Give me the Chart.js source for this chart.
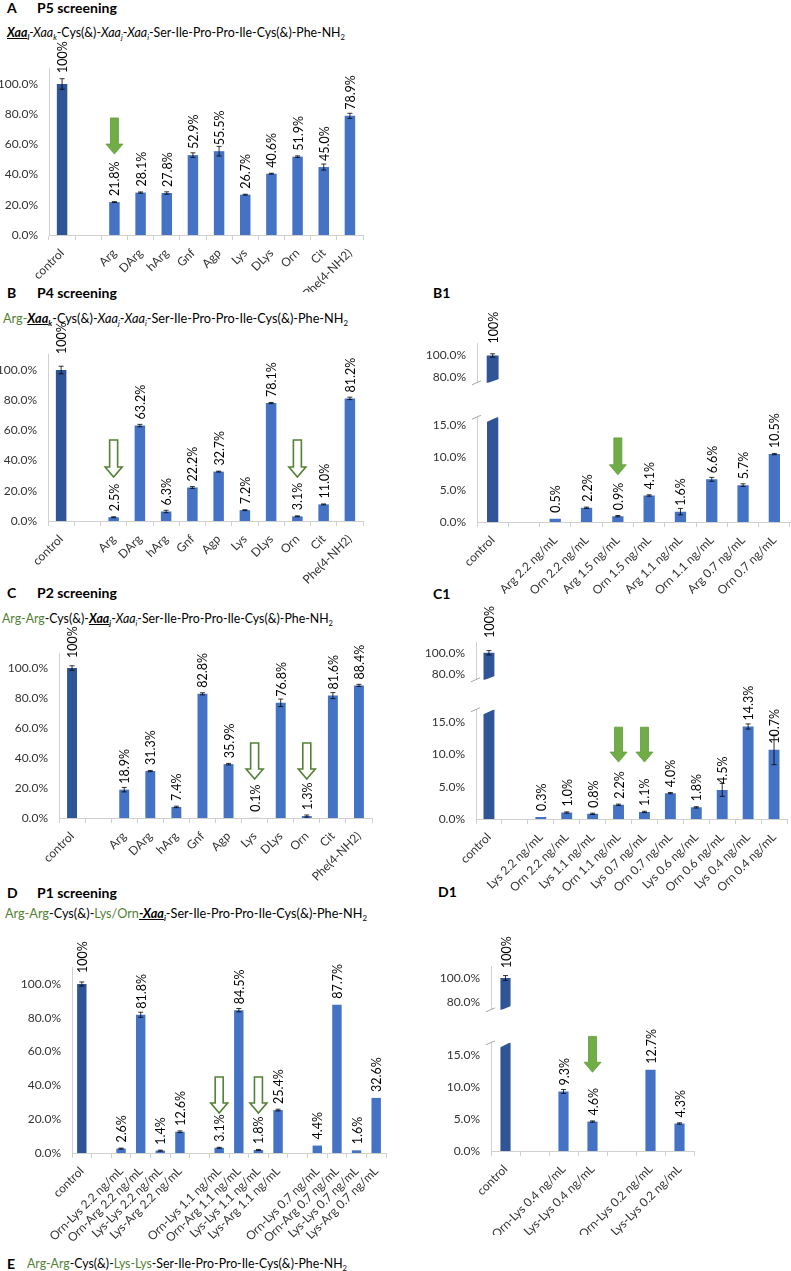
<!DOCTYPE html>
<html><head><meta charset="utf-8">
<script src="https://cdn.jsdelivr.net/npm/chart.js@4.4.1/dist/chart.umd.min.js"></script>
<style>
body{margin:0;background:#fff;}
#wrap{position:relative;width:791px;height:1271px;overflow:hidden;font-family:Lato,sans-serif;color:#000;background:#fff;}
.t{position:absolute;white-space:nowrap;line-height:1;}
.h{font-weight:bold;font-size:14px;}
.seq{font-size:13.5px;transform-origin:0 50%;}
.g{color:#538135;}
.k{font-weight:bold;font-style:italic;text-decoration:underline;}
.i{font-style:italic;}
sub{font-size:62%;vertical-align:-0.3em;line-height:0;}
canvas{position:absolute;}
</style></head>
<body><div id="wrap">
<div class="t h" style="left:7px;top:1px">A</div>
<div class="t h" style="left:37px;top:1px">P5 screening</div>
<div class="t seq" data-w="338" style="left:7px;top:26px"><span class="k">Xaa<sub>l</sub></span><span class="i">-Xaa<sub>k</sub></span>-Cys(&amp;)-<span class="i">Xaa<sub>j</sub></span>-<span class="i">Xaa<sub>i</sub></span>-Ser-Ile-Pro-Pro-Ile-Cys(&amp;)-Phe-NH<sub>2</sub></div>

<div class="t h" style="left:7px;top:286px">B</div>
<div class="t h" style="left:37px;top:286px">P4 screening</div>
<div class="t h" style="left:433px;top:286px">B1</div>
<div class="t seq" data-w="345" style="left:3px;top:312px"><span class="g">Arg-</span><span class="k">Xaa<sub>k</sub></span>-Cys(&amp;)-<span class="i">Xaa<sub>j</sub></span>-<span class="i">Xaa<sub>i</sub></span>-Ser-Ile-Pro-Pro-Ile-Cys(&amp;)-Phe-NH<sub>2</sub></div>

<div class="t h" style="left:7px;top:586px">C</div>
<div class="t h" style="left:37px;top:586px">P2 screening</div>
<div class="t h" style="left:433px;top:587px">C1</div>
<div class="t seq" data-w="331" style="left:2px;top:612px"><span class="g">Arg-Arg</span>-Cys(&amp;)-<span class="k">Xaa<sub>j</sub></span>-<span class="i">Xaa<sub>i</sub></span>-Ser-Ile-Pro-Pro-Ile-Cys(&amp;)-Phe-NH<sub>2</sub></div>

<div class="t h" style="left:7px;top:886px">D</div>
<div class="t h" style="left:37px;top:886px">P1 screening</div>
<div class="t h" style="left:438px;top:885px">D1</div>
<div class="t seq" data-w="362" style="left:5px;top:907px"><span class="g">Arg-Arg</span>-Cys(&amp;)-<span class="g">Lys/Orn</span><span class="k">-Xaa<sub>i</sub></span>-Ser-Ile-Pro-Pro-Ile-Cys(&amp;)-Phe-NH<sub>2</sub></div>

<div class="t h" style="left:7px;top:1257px">E</div>
<div class="t seq" data-w="320" style="left:27px;top:1257px"><span class="g">Arg-Arg</span>-Cys(&amp;)-<span class="g">Lys-Lys</span>-Ser-Ile-Pro-Pro-Ile-Cys(&amp;)-Phe-NH<sub>2</sub></div>
</div>
<script>
// ---------- data ----------
const mainCats = ['control','','Arg','DArg','hArg','Gnf','Agp','Lys','DLys','Orn','Cit','Phe(4-NH2)'];
const aValues = [100,null,21.8,28.1,27.8,52.9,55.5,26.7,40.6,51.9,45.0,78.9];
const aErrors = [3.5,null,0.3,0.4,0.8,1.5,3.2,0.3,0.3,0.5,2.0,1.7];
const bValues = [100,null,2.5,63.2,6.3,22.2,32.7,7.2,78.1,3.1,11.0,81.2];
const bErrors = [2.5,null,0.3,0.8,0.8,0.6,0.3,0.3,0.4,0.3,0.3,0.8];
const cValues = [100,null,18.9,31.3,7.4,82.8,35.9,0.1,76.8,1.3,81.6,88.4];
const cErrors = [1.5,null,1.5,0.4,0.5,0.7,0.5,0,2.5,0.7,2.0,0.7];

const b1Cats = ['control','','Arg 2.2 ng/mL','Orn 2.2 ng/mL','Arg 1.5 ng/mL','Orn 1.5 ng/mL','Arg 1.1 ng/mL','Orn 1.1 ng/mL','Arg 0.7 ng/mL','Orn 0.7 ng/mL'];
const b1Values = [100,null,0.5,2.2,0.9,4.1,1.6,6.6,5.7,10.5];
const b1Errors = [1.5,null,0,0.1,0.1,0.1,0.5,0.3,0.2,0.1];

const c1Cats = ['control','','Lys 2.2 ng/mL','Orn 2.2 ng/mL','Lys 1.1 ng/mL','Orn 1.1 ng/mL','Lys 0.7 ng/mL','Orn 0.7 ng/mL','Lys 0.6 ng/mL','Orn 0.6 ng/mL','Lys 0.4 ng/mL','Orn 0.4 ng/mL'];
const c1Values = [100,null,0.3,1.0,0.8,2.2,1.1,4.0,1.8,4.5,14.3,10.7];
const c1Errors = [2.0,null,0,0.1,0.1,0.1,0.1,0.1,0.1,1.0,0.4,2.3];

const dCats = ['control','','Orn-Lys 2.2 ng/mL','Orn-Arg 2.2 ng/mL','Lys-Lys 2.2 ng/mL','Lys-Arg 2.2 ng/mL','','Orn-Lys 1.1 ng/mL','Orn-Arg 1.1 ng/mL','Lys-Lys 1.1 ng/mL','Lys-Arg 1.1 ng/mL','','Orn-Lys 0.7 ng/mL','Orn-Arg 0.7 ng/mL','Lys-Lys 0.7 ng/mL','Lys-Arg 0.7 ng/mL'];
const dValues = [100,null,2.6,81.8,1.4,12.6,null,3.1,84.5,1.8,25.4,null,4.4,87.7,1.6,32.6];
const dErrors = [1.2,null,0.3,1.5,0.3,0.5,null,0.3,1.0,0.3,0.5,null,0,0,0,0];

const d1Cats = ['control','','Orn-Lys 0.4 ng/mL','Lys-Lys 0.4 ng/mL','','Orn-Lys 0.2 ng/mL','Lys-Lys 0.2 ng/mL'];
const d1Values = [100,null,9.3,4.6,null,12.7,4.3];
const d1Errors = [2.0,null,0.3,0.1,null,0,0.1];

const mainTicks = [0,20,40,60,80,100];
const upperTicks = [80,100];
const lowerTicks = [0,5,10,15];

// ---------- fit sequence lines to their widths (horizontal condensing) ----------
document.querySelectorAll('.seq').forEach(el => {
  const w = el.getBoundingClientRect().width;
  el.style.transform = 'scaleX(' + (+el.dataset.w / w).toFixed(4) + ')';
});

// ---------- drawing helpers ----------
const FONT = 'Lato';
const wrap = document.getElementById('wrap');
const pct = v => v.toFixed(1) + '%';
const labelText = v => (v === 100 ? '100%' : v.toFixed(1) + '%');

const extras = {
  id: 'extras',
  afterDatasetsDraw(chart, args, o) {
    const ctx = chart.ctx, xs = chart.scales.x, ys = chart.scales.y, area = chart.chartArea;
    const meta = chart.getDatasetMeta(0);
    const vals = chart.data.datasets[0].data;
    const errs = o.errors || [];
    ctx.save();
    if (o.brk) {
      const bar = meta.data[0];
      const l = bar.x - bar.width / 2 - 1, r = bar.x + bar.width / 2 + 1;
      ctx.fillStyle = '#fff';
      ctx.beginPath();
      if (o.brk === 'top') {
        ctx.moveTo(l, area.top - 1); ctx.lineTo(r, area.top - 1); ctx.lineTo(l, area.top + 5);
      } else {
        ctx.moveTo(l, area.bottom + 1); ctx.lineTo(r, area.bottom - 4); ctx.lineTo(r, area.bottom + 1);
      }
      ctx.closePath(); ctx.fill();
      ctx.strokeStyle = '#a6a6a6'; ctx.lineWidth = 1;
      const yy = o.brk === 'top' ? area.top : area.bottom;
      ctx.beginPath(); ctx.moveTo(area.left - 5, yy + 2); ctx.lineTo(area.left + 4, yy - 2); ctx.stroke();
    }
    ctx.strokeStyle = '#000'; ctx.lineWidth = 0.8;
    meta.data.forEach((bar, i) => {
      const v = vals[i];
      if (v == null || v > ys.max || v < ys.min) return;
      const e = errs[i];
      if (!e) return;
      const yt = ys.getPixelForValue(v + e), yb = ys.getPixelForValue(v - e);
      ctx.beginPath();
      ctx.moveTo(bar.x, yt); ctx.lineTo(bar.x, yb);
      ctx.moveTo(bar.x - 2.5, yt); ctx.lineTo(bar.x + 2.5, yt);
      ctx.moveTo(bar.x - 2.5, yb); ctx.lineTo(bar.x + 2.5, yb);
      ctx.stroke();
    });
    ctx.fillStyle = '#000';
    ctx.font = (o.labelSize || 12.5) + 'px ' + FONT;
    ctx.textAlign = 'left'; ctx.textBaseline = 'middle';
    meta.data.forEach((bar, i) => {
      const v = vals[i];
      if (v == null || v > ys.max || v < ys.min) return;
      const gap = i === 0 ? (o.firstGap || 10) : (o.gap || 6);
      const y0 = ys.getPixelForValue(v) - gap;
      ctx.save();
      ctx.translate(bar.x + 1, y0);
      ctx.rotate(-Math.PI / 2);
      ctx.fillText(labelText(v), 0, 0);
      ctx.restore();
    });
    (o.arrows || []).forEach(a => {
      const x = xs.getPixelForValue(a.i);
      const yT = ys.getPixelForValue(a.from), yB = ys.getPixelForValue(a.to);
      const sw = 4, hw = 8.5, hl = 10;
      ctx.beginPath();
      ctx.moveTo(x - sw, yT); ctx.lineTo(x + sw, yT); ctx.lineTo(x + sw, yB - hl);
      ctx.lineTo(x + hw, yB - hl); ctx.lineTo(x, yB); ctx.lineTo(x - hw, yB - hl);
      ctx.lineTo(x - sw, yB - hl); ctx.closePath();
      if (a.filled) {
        ctx.fillStyle = '#70AD47'; ctx.fill();
        ctx.strokeStyle = '#5f9a3a'; ctx.lineWidth = 0.8; ctx.stroke();
      } else {
        ctx.fillStyle = '#fff'; ctx.fill();
        ctx.strokeStyle = '#538135'; ctx.lineWidth = 1.6; ctx.stroke();
      }
    });
    ctx.restore();
  }
};

function mk(rect, area, cats, values, yopt, plug, showX, barPct) {
  const c = document.createElement('canvas');
  c.width = rect.w; c.height = rect.h;
  c.style.left = rect.x + 'px'; c.style.top = rect.y + 'px';
  c.style.width = rect.w + 'px'; c.style.height = rect.h + 'px';
  wrap.appendChild(c);
  const yW = area.left - rect.x;
  const xH = rect.y + rect.h - area.bottom;
  return new Chart(c, {
    type: 'bar',
    data: {
      labels: cats,
      datasets: [{
        data: values,
        backgroundColor: values.map((v, i) => i === 0 ? '#2F5597' : '#4472C4'),
        borderWidth: 0,
        barPercentage: barPct,
        categoryPercentage: 1
      }]
    },
    options: {
      responsive: false, animation: false, devicePixelRatio: 1,
      layout: { padding: { left: 0, top: area.top - rect.y, right: rect.x + rect.w - area.right, bottom: showX ? 0 : rect.y + rect.h - area.bottom } },
      plugins: { legend: { display: false }, tooltip: { enabled: false }, extras: plug },
      scales: {
        x: {
          display: showX,
          grid: { display: true, drawOnChartArea: false, drawTicks: true, tickLength: 5, color: '#d0d0d0', offset: true },
          border: { color: '#d0d0d0' },
          ticks: { autoSkip: false, minRotation: 45, maxRotation: 45, color: '#333', font: { family: FONT, size: 12 }, padding: 6 },
          afterFit: s => { s.height = xH; }
        },
        y: {
          min: yopt.min, max: yopt.max,
          afterBuildTicks: s => { s.ticks = yopt.ticks.map(v => ({ value: v })); },
          grid: { display: false, drawTicks: false },
          border: { color: '#d0d0d0' },
          ticks: { callback: v => pct(v), color: '#333', font: { family: FONT, size: 12 }, padding: 11 },
          afterFit: s => { s.width = yW; }
        }
      }
    },
    plugins: [extras]
  });
}

const full = { min: 0, max: 110, ticks: mainTicks };

// A
mk({ x: 0, y: 30, w: 400, h: 262 }, { left: 49, right: 363, top: 68.9, bottom: 235 }, mainCats, aValues, full,
  { errors: aErrors, firstGap: 11, arrows: [{ i: 2, from: 77.5, to: 53.6, filled: true }] }, true, 0.4);
// B
mk({ x: 0, y: 318, w: 400, h: 274 }, { left: 48, right: 363, top: 354.9, bottom: 521 }, mainCats, bValues, full,
  { errors: bErrors, firstGap: 16, arrows: [{ i: 2, from: 53.6, to: 29.1 }, { i: 9, from: 53.6, to: 29.1 }] }, true, 0.4);
// C
mk({ x: 0, y: 615, w: 400, h: 277 }, { left: 59, right: 372, top: 653, bottom: 818 }, mainCats, cValues, full,
  { errors: cErrors, firstGap: 10, arrows: [{ i: 7, from: 50, to: 26 }, { i: 9, from: 50, to: 26 }] }, true, 0.38);
// D
mk({ x: 0, y: 930, w: 400, h: 312 }, { left: 72, right: 386, top: 967.1, bottom: 1153 }, dCats, dValues, full,
  { errors: dErrors, firstGap: 11, arrows: [{ i: 7, from: 45, to: 23.7 }, { i: 9, from: 45, to: 23.7 }] }, true, 0.48);

// B1 (broken axis)
mk({ x: 400, y: 305, w: 391, h: 96 }, { left: 477, right: 790, top: 343.4, bottom: 401 }, b1Cats, b1Values,
  { min: 75, max: 111, ticks: upperTicks }, { errors: b1Errors, firstGap: 12, brk: 'bottom' }, false, 0.38);
mk({ x: 400, y: 395, w: 391, h: 212 }, { left: 477, right: 790, top: 417.2, bottom: 522 }, b1Cats, b1Values,
  { min: 0, max: 16.2, ticks: lowerTicks }, { errors: b1Errors, brk: 'top', arrows: [{ i: 4, from: 13.0, to: 7.3, filled: true }] }, true, 0.36);

// C1 (broken axis)
mk({ x: 400, y: 605, w: 391, h: 93 }, { left: 476, right: 787, top: 642, bottom: 698 }, c1Cats, c1Values,
  { min: 75, max: 110, ticks: upperTicks }, { errors: c1Errors, firstGap: 15, brk: 'bottom' }, false, 0.42);
mk({ x: 400, y: 670, w: 391, h: 222 }, { left: 476, right: 787, top: 709.7, bottom: 819 }, c1Cats, c1Values,
  { min: 0, max: 16.9, ticks: lowerTicks }, { errors: c1Errors, brk: 'top', arrows: [{ i: 5, from: 14.2, to: 8.8, filled: true }, { i: 6, from: 14.2, to: 8.8, filled: true }] }, true, 0.42);

// D1 (broken axis)
mk({ x: 400, y: 935, w: 391, h: 93 }, { left: 491, right: 694, top: 966, bottom: 1028 }, d1Cats, d1Values,
  { min: 73.5, max: 110, ticks: upperTicks }, { errors: d1Errors, firstGap: 10, brk: 'bottom' }, false, 0.35);
mk({ x: 400, y: 1005, w: 391, h: 230 }, { left: 491, right: 694, top: 1042.8, bottom: 1151 }, d1Cats, d1Values,
  { min: 0, max: 16.9, ticks: lowerTicks }, { errors: d1Errors, brk: 'top', arrows: [{ i: 3, from: 17.9, to: 12.3, filled: true }] }, true, 0.35);
</script>
</body></html>
